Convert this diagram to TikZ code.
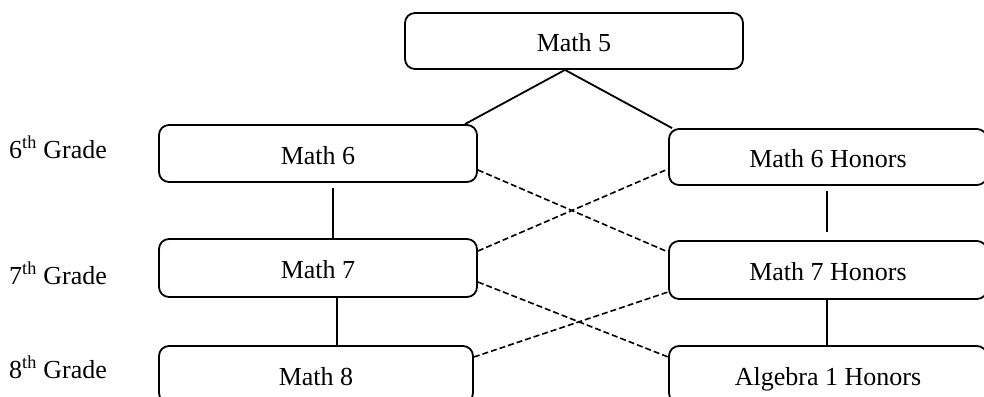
\documentclass[tikz,border=0pt]{standalone}
\usepackage{fontspec}
\setmainfont{Liberation Serif}
\begin{document}
\begin{tikzpicture}
  [x=1pt,y=-1pt,every node/.style={inner sep=0pt,font=\fontsize{26}{30}\selectfont},
   course/.style={draw,line width=1.8pt,rounded corners=10pt,minimum width=318pt,minimum height=57pt,
     text height=22pt,text depth=1pt},
   switch/.style={line width=1.6pt,dash pattern=on 6pt off 3pt}]
  \useasboundingbox (0,0) rectangle (984,396);
  \clip (0,0) rectangle (984,396);
  \node[course,minimum width=338pt,minimum height=56pt] (m5) at (574,41) {Math 5};
  \node[course] (m6) at (318,153.5) {Math 6};
  \node[course,minimum height=58pt] (m7) at (318,268) {Math 7};
  \node[course,minimum width=314pt] (m8) at (316,374.5) {Math 8};
  \node[course,minimum height=56pt] (h6) at (828,157) {Math 6 Honors};
  \node[course,minimum height=58pt] (h7) at (828,270) {Math 7 Honors};
  \node[course] (a1) at (828,374.5) {Algebra 1 Honors};
  \node[anchor=base west] (g6) at (9,158) {6\textsuperscript{th} Grade};
  \node[anchor=base west] (g7) at (9,284) {7\textsuperscript{th} Grade};
  \node[anchor=base west] (g8) at (9,378) {8\textsuperscript{th} Grade};
  % end points on the boxes
  \coordinate (m5s) at ([xshift=-9pt]m5.south);
  \coordinate (m6n) at ([xshift=147pt]m6.north);
  \coordinate (h6n) at ([xshift=4pt]h6.north west);
  \coordinate (m6s) at ([xshift=15pt,yshift=-5pt]m6.south);
  \coordinate (m7n) at ([xshift=15pt]m7.north);
  \coordinate (m7s) at ([xshift=19pt]m7.south);
  \coordinate (m8n) at ([xshift=21pt]m8.north);
  \coordinate (h6s) at ([xshift=-1pt,yshift=-5pt]h6.south);
  \coordinate (h7n) at ([xshift=-1pt,yshift=8pt]h7.north);
  \coordinate (h7s) at ([xshift=-1pt]h7.south);
  \coordinate (a1n) at ([xshift=-1pt]a1.north);
  \coordinate (m6e) at ([yshift=-16.5pt]m6.east);
  \coordinate (m7e) at ([yshift=17pt]m7.east);
  \coordinate (m7f) at ([yshift=-14pt]m7.east);
  \coordinate (m8e) at ([yshift=17.5pt]m8.east);
  \coordinate (h6w) at ([yshift=-12pt]h6.west);
  \coordinate (h7w) at ([yshift=18pt]h7.west);
  \coordinate (h7v) at ([yshift=-22pt]h7.west);
  \coordinate (a1w) at ([yshift=17.5pt]a1.west);
  \foreach \from/\to in {m5s/m6n,m5s/h6n,m6s/m7n,m7s/m8n,h6s/h7n,h7s/a1n}
    \draw[line width=1.8pt] (\from) -- (\to);
  \foreach \from/\to in {m6e/h7w,m7e/h6w,m7f/a1w,m8e/h7v}
    \draw[switch] (\from) -- (\to);
\end{tikzpicture}
\end{document}
